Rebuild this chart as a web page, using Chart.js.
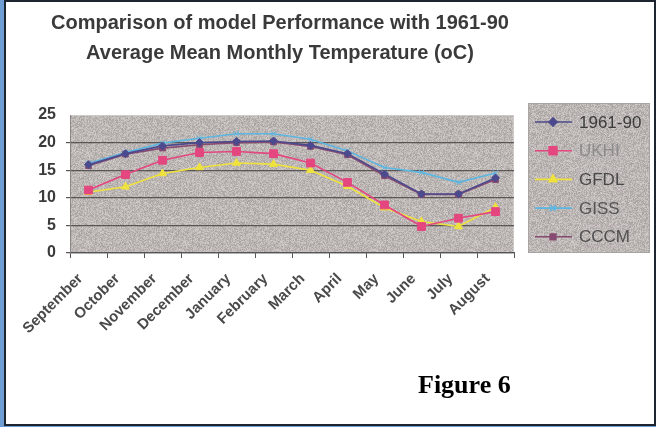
<!DOCTYPE html>
<html>
<head>
<meta charset="utf-8">
<script src="https://cdn.jsdelivr.net/npm/chart.js@4.4.0/dist/chart.umd.min.js"></script>
<style>
  html, body { margin: 0; padding: 0; }
  body { width: 656px; height: 427px; background: #6f9fd2; position: relative; overflow: hidden; }
  #frame { position: absolute; left: 4px; top: 0; width: 648px; height: 422px; background: #fff; border: 2px solid #1d2530; }
  #title { position: absolute; left: 0; top: 7px; width: 560px; text-align: center; font: bold 20px "Liberation Sans", Arial, sans-serif; line-height: 30px; color: #3a3a3a; filter: blur(0.5px); }
  #chart { position: absolute; left: 0; top: 0; filter: blur(0.6px); }
  #fig { position: absolute; left: 418px; top: 370px; font: bold 26px "Liberation Serif", "Times New Roman", serif; color: #000; }
</style>
</head>
<body>
<div id="frame"></div>
<div id="title">Comparison of model Performance with 1961-90<br>Average Mean Monthly Temperature (oC)</div>
<canvas id="chart" width="656" height="427"></canvas>
<div id="fig">Figure 6</div>
<script>
const months = ['September', 'October', 'November', 'December', 'January', 'February',
                'March', 'April', 'May', 'June', 'July', 'August'];
const yTicks = [0, 5, 10, 15, 20, 25];

const obs6190 = [16.0, 18.0, 19.4, 20.0, 20.2, 20.3, 19.5, 18.0, 14.3, 10.7, 10.7, 13.6];
const ukhi    = [11.4, 14.2, 16.8, 18.2, 18.4, 18.0, 16.3, 12.8, 8.7, 4.8, 6.3, 7.5];
const gfdl    = [11.0, 12.0, 14.4, 15.5, 16.3, 16.1, 15.0, 12.1, 8.2, 5.7, 4.8, 8.3];
const giss    = [16.2, 18.2, 19.9, 20.8, 21.6, 21.6, 20.6, 18.5, 15.5, 14.6, 12.8, 14.5];
const cccm    = [15.8, 17.9, 19.0, 19.6, 20.0, 20.1, 19.3, 17.8, 14.0, 10.6, 10.6, 13.3];

// speckled grey fill used behind the plot and the legend
function makeSpeckle() {
  const c = document.createElement('canvas');
  c.width = 97; c.height = 89;
  const g = c.getContext('2d');
  const img = g.createImageData(c.width, c.height);
  for (let y = 0; y < c.height; y++) {
    for (let x = 0; x < c.width; x++) {
      let h = (x * 374761393 + y * 668265263) | 0;
      h = Math.imul(h ^ (h >>> 13), 1274126177);
      h = (h ^ (h >>> 16)) & 255;
      const d = (h - 128) / 128 * 22;
      const i = (y * c.width + x) * 4;
      img.data[i] = 188 + d;
      img.data[i + 1] = 182 + d;
      img.data[i + 2] = 180 + d;
      img.data[i + 3] = 255;
    }
  }
  g.putImageData(img, 0, 0);
  return c;
}
const speckle = makeSpeckle();

const plotBg = {
  id: 'plotBg',
  beforeDraw(chart) {
    const { ctx, chartArea: a } = chart;
    ctx.save();
    ctx.fillStyle = ctx.createPattern(speckle, 'repeat');
    ctx.fillRect(a.left, a.top, a.right - a.left, a.bottom - a.top);
    ctx.strokeStyle = '#cfcaca';
    ctx.lineWidth = 1;
    ctx.strokeRect(a.left + 0.5, a.top + 0.5, a.right - a.left - 1, a.bottom - a.top - 1);
    ctx.restore();
  }
};

const legendText = ['#3c3c3c', '#8c8c8c', '#484848', '#555', '#505050'];

const sideLegend = {
  id: 'sideLegend',
  afterDraw(chart) {
    const ctx = chart.ctx;
    const x0 = 528, y0 = 103, w = 122, h = 150;
    ctx.save();
    ctx.fillStyle = ctx.createPattern(speckle, 'repeat');
    ctx.fillRect(x0, y0, w, h);
    ctx.strokeStyle = '#a9a4a4';
    ctx.lineWidth = 1;
    ctx.strokeRect(x0 + 0.5, y0 + 0.5, w - 1, h - 1);
    chart.data.datasets.forEach((ds, i) => {
      const y = 122 + i * 28.7;
      ctx.strokeStyle = ds.borderColor;
      ctx.lineWidth = 1.6;
      ctx.beginPath();
      ctx.moveTo(535, y);
      ctx.lineTo(572, y);
      ctx.stroke();
      ctx.fillStyle = ds.pointBackgroundColor;
      ctx.strokeStyle = ds.pointBorderColor;
      Chart.helpers.drawPoint(ctx, {
        pointStyle: ds.pointStyle, radius: ds.pointRadius, rotation: 0, borderWidth: 1
      }, 553, y);
      ctx.fillStyle = legendText[i];
      ctx.font = '17px "Liberation Sans", Arial, sans-serif';
      ctx.textBaseline = 'middle';
      ctx.fillText(ds.label, 579, y + 1);
    });
    ctx.restore();
  }
};

function series(label, data, color, style, radius) {
  return {
    label: label,
    data: data,
    borderColor: color,
    borderWidth: 1.6,
    pointStyle: style,
    pointRadius: radius,
    pointBackgroundColor: color,
    pointBorderColor: color,
    pointBorderWidth: 1,
    tension: 0,
    fill: false
  };
}

new Chart(document.getElementById('chart'), {
  type: 'line',
  data: {
    labels: months,
    datasets: [
      series('1961-90', obs6190, '#4c4a8e', 'rectRot', 4),
      series('UKHI', ukhi, '#e4467f', 'rect', 5.5),
      series('GFDL', gfdl, '#efe23c', 'triangle', 4.5),
      series('GISS', giss, '#5cb6e2', 'crossRot', 4),
      series('CCCM', cccm, '#874a70', 'rect', 4)
    ]
  },
  options: {
    responsive: false,
    animation: false,
    devicePixelRatio: 1,
    layout: { padding: { left: 36, top: 115, right: 142, bottom: 0 } },
    plugins: {
      legend: { display: false },
      title: { display: false },
      tooltip: { enabled: false }
    },
    scales: {
      x: {
        offset: true,
        afterFit(scale) { scale.height = 174; },
        grid: { offset: true, drawOnChartArea: false, tickLength: 5, color: '#555' },
        border: { color: '#555', width: 1.2 },
        ticks: {
          autoSkip: false,
          maxRotation: 45,
          minRotation: 45,
          padding: 12,
          labelOffset: -8,
          color: '#4a4a4a',
          font: { family: '"Liberation Sans", Arial, sans-serif', size: 15, weight: 'bold' }
        }
      },
      y: {
        min: yTicks[0],
        max: yTicks[yTicks.length - 1],
        afterFit(scale) { scale.width = 34; },
        afterBuildTicks(scale) { scale.ticks = yTicks.map(v => ({ value: v })); },
        grid: {
          tickLength: 4,
          lineWidth: 1.2,
          color: c => (c.tick && c.tick.value === 25) ? 'rgba(0,0,0,0)' : '#5a5656'
        },
        border: { color: '#8a8686' },
        ticks: {
          padding: 10,
          color: '#3a3a3a',
          font: { family: '"Liberation Sans", Arial, sans-serif', size: 16, weight: 'bold' }
        }
      }
    }
  },
  plugins: [plotBg, sideLegend]
});
</script>
</body>
</html>
